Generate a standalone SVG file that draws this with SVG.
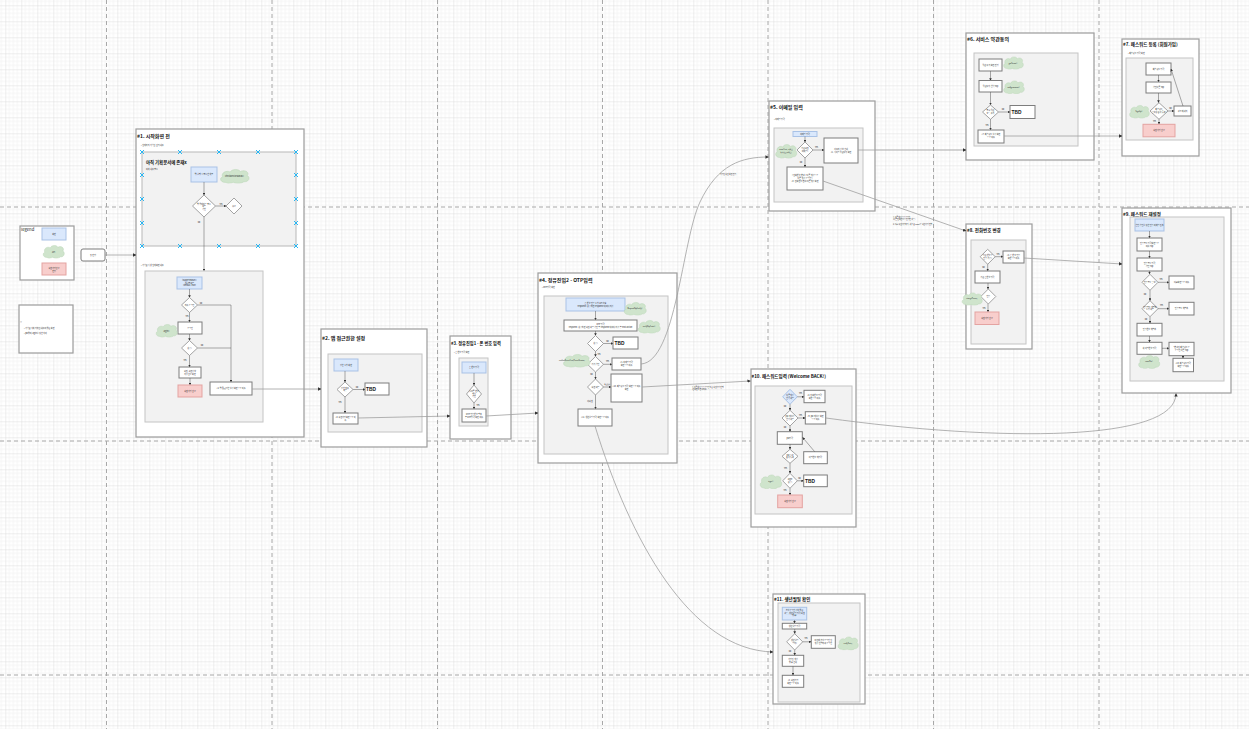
<svg xmlns="http://www.w3.org/2000/svg" xmlns:xlink="http://www.w3.org/1999/xlink" width="1249" height="729" viewBox="0 0 1249 729">
<style>
.frame{fill:#fff;stroke:#9c9c9c;stroke-width:1.2}
.panel{fill:#f2f2f2;stroke:#c4c4c4;stroke-width:1}
.box{fill:#fff;stroke:#7d7d7d;stroke-width:1}
.blue{fill:#dae8fc;stroke:#a9c2e6;stroke-width:1}
.red{fill:#f8cecc;stroke:#e4a3a1;stroke-width:1}
.dia{fill:#fff;stroke:#a3a3a3;stroke-width:1}
.pb{stroke:#a8a8a8;stroke-width:1;stroke-dasharray:4 3;fill:none}
.t{font-family:"Noto Sans CJK KR","Noto Sans",sans-serif;font-size:2px;fill:#222;text-anchor:middle}
.s{text-anchor:start}
.ti{font-family:"Noto Sans CJK KR","Noto Sans",sans-serif;font-size:5px;font-weight:bold;fill:#111}
.tbd{font-family:"Liberation Sans",sans-serif;font-size:4.8px;font-weight:bold;fill:#111;text-anchor:middle}
.e{fill:none;stroke:#555;stroke-width:0.5;marker-end:url(#ai)}
.ln{fill:none;stroke:#555;stroke-width:0.5}
.c{fill:none;stroke:#a0a0a0;stroke-width:0.8;marker-end:url(#ac)}
.xm{stroke:#29b6f2;stroke-width:1;fill:none}
</style>
<defs>
<pattern id="grid" x="5.3" y="5.3" width="16" height="16" patternUnits="userSpaceOnUse">
<path d="M4 0V16M8 0V16M12 0V16M0 4H16M0 8H16M0 12H16" stroke="#eeeeee" stroke-width="0.6" fill="none"/>
<path d="M0 0V16M0 0H16" stroke="#d6d6d6" stroke-width="0.8" fill="none"/>
</pattern>
<marker id="ai" viewBox="0 0 10 10" refX="9" refY="5" markerWidth="2.6" markerHeight="2.6" markerUnits="userSpaceOnUse" orient="auto"><path d="M0 0L10 5L0 10z" fill="#333"/></marker>
<marker id="ac" viewBox="0 0 10 10" refX="9" refY="5" markerWidth="3.4" markerHeight="3.4" markerUnits="userSpaceOnUse" orient="auto"><path d="M0 0L10 5L0 10z" fill="#333"/></marker>
<symbol id="cloud" viewBox="0 0 100 60" preserveAspectRatio="none"><path d="M22 56C4 56 0 38 12 33C5 18 24 6 36 14C42 1 64 1 69 12C82 3 100 15 91 28C102 35 97 55 80 53C73 61 52 61 46 55C37 61 25 60 22 56Z" fill="#cfe4cc" stroke="#bcd8b9" stroke-width="2"/></symbol>
<path id="xmk" d="M-2-2L2 2M-2 2L2-2" class="xm"/>
</defs>
<rect width="1249" height="729" fill="#fff"/>
<rect width="1249" height="729" fill="url(#grid)"/>
<g id="pagebreaks">
<path class="pb" d="M106.5 0V729M272 0V729M437.5 0V729M602.5 0V729M768 0V729M933.5 0V729M1099 0V729M0 207H1249M0 441H1249M0 675H1249"/>
</g>

<g id="legend">
<rect class="frame" x="20" y="226" width="54" height="54"/>
<text class="t s" x="21" y="231" style="font-size:4.2px">legend</text>
<rect class="blue" x="42" y="228" width="24" height="12"/>
<text class="t" x="54" y="235">화면</text>
<use href="#cloud" x="42" y="244.5" width="23" height="14"/>
<text class="t" x="53.5" y="252.5">API</text>
<rect class="red" x="42" y="263" width="24" height="12"/>
<text class="t" x="54" y="268.5">회원가입완료</text>
<text class="t" x="54" y="271.5">진입</text>
</g>
<g id="start">
<rect class="box" x="81" y="249" width="24" height="12" rx="2"/>
<text class="t" x="93" y="256">첫 진입</text>
</g>
<g id="note">
<rect class="frame" x="19" y="305" width="54" height="48"/>
<text class="t s" x="20" y="323">※</text>
<text class="t s" x="24" y="328.5">• 기획문서에 기재된 내용이 없는 화면</text>
<text class="t s" x="24" y="333.5">• pw없이 login을 위한 처리</text>
</g>

<g id="n1">
<rect class="frame" x="136" y="129" width="168" height="308"/>
<text class="ti" x="137" y="137.5">#1. 시작화면 전</text>
<text class="t s" x="141" y="145.5">• 현재까지 기획된 것의 내용</text>
<rect class="panel" x="142" y="152" width="154" height="94" style="stroke:#b8b8b8"/>
<text class="ti" x="146" y="163.5" style="font-size:4.4px">아직 기획문서에 존재x</text>
<text class="t s" x="146" y="170">아래 내용 필요</text>
<rect class="blue" x="191" y="167" width="26" height="15"/>
<text class="t" x="204" y="175">앱 실행 시 필요한 체크</text>
<use href="#cloud" x="219" y="168.5" width="31" height="15"/>
<text class="t" x="234.5" y="176.5">checkDeviceStatus()</text>
<path class="e" d="M204 182V195"/>
<polygon class="dia" points="204,195 215.5,206 204,217 192.5,206"/>
<text class="t" x="204" y="204.5">앱 업데이트 필요</text>
<text class="t" x="204" y="207">여부</text>
<text class="t" x="204" y="209.5">확인</text>
<path class="e" d="M215.5 206H226"/>
<text class="t" x="221" y="204.5">Yes</text>
<polygon class="dia" points="234,198 242,206 234,214 226,206"/>
<text class="t" x="234" y="207">종료</text>
<path class="e" d="M204 217V271"/>
<text class="t" x="199" y="223">No</text>
<use href="#xmk" x="142" y="152"/><use href="#xmk" x="180" y="152"/><use href="#xmk" x="219" y="152"/><use href="#xmk" x="258" y="152"/><use href="#xmk" x="296" y="152"/>
<use href="#xmk" x="142" y="246"/><use href="#xmk" x="180" y="246"/><use href="#xmk" x="219" y="246"/><use href="#xmk" x="258" y="246"/><use href="#xmk" x="296" y="246"/>
<use href="#xmk" x="142" y="175"/><use href="#xmk" x="142" y="199"/><use href="#xmk" x="142" y="223"/>
<use href="#xmk" x="296" y="175"/><use href="#xmk" x="296" y="199"/><use href="#xmk" x="296" y="223"/>
<text class="t s" x="141" y="265.5">• 기획문서 상 현재화면 내용</text>
<rect class="panel" x="145" y="271" width="118" height="151"/>
<rect class="blue" x="177" y="277" width="25" height="12"/>
<text class="t" x="189.5" y="281">isAppFirstRun()</text>
<text class="t" x="189.5" y="283.7">첫실행여부</text>
<text class="t" x="189.5" y="286.4">(default: true)</text>
<path class="e" d="M189.5 289V297.5"/>
<polygon class="dia" points="189.5,297.5 197.5,305 189.5,312.5 181.5,305"/>
<text class="t" x="189.5" y="306">자동 로그인</text>
<path class="ln" d="M197.5 305H231V348"/>
<path class="e" d="M231 348V382"/>
<text class="t" x="201" y="303.5">No</text>
<path class="e" d="M189.5 312.5V322"/>
<text class="t" x="187" y="316.5">Yes</text>
<rect class="box" x="178" y="322" width="24" height="12"/>
<text class="t" x="190" y="328.7">로그인</text>
<use href="#cloud" x="155" y="323.5" width="23" height="14"/>
<text class="t" x="166.5" y="331.5">login()</text>
<path class="e" d="M189.5 334V340.5"/>
<polygon class="dia" points="189.5,340.5 197.5,348 189.5,355.5 181.5,348"/>
<text class="t" x="189.5" y="349">성공?</text>
<path class="ln" d="M197.5 348H231"/>
<text class="t" x="202" y="346">No</text>
<path class="e" d="M189.5 355.5V367"/>
<text class="t" x="185" y="361">Yes</text>
<rect class="box" x="179" y="367" width="22" height="11"/>
<text class="t" x="190" y="371.5">회원, 회원정보</text>
<text class="t" x="190" y="374.5">저장완료 화면</text>
<path class="e" d="M190 378V385"/>
<rect class="red" x="178" y="385" width="24" height="12"/>
<text class="t" x="190" y="391.7">회원가입 완료</text>
<rect class="box" x="210" y="382" width="42" height="13"/>
<text class="t" x="231" y="389.2">#2. 앱 접근권한 설정 화면으로 이동</text>
</g>

<g id="n2">
<rect class="frame" x="321" y="329" width="106" height="118"/>
<text class="ti" x="322" y="339.5">#2. 앱 접근권한 설정</text>
<rect class="panel" x="328" y="354" width="94" height="78"/>
<rect class="blue" x="334" y="359" width="24" height="12"/>
<text class="t" x="346" y="365.7">권한 요청 화면</text>
<path class="e" d="M345 371V382"/>
<polygon class="dia" points="345,382 353,389.5 345,397 337,389.5"/>
<text class="t" x="345" y="388.5">권한 허용</text>
<text class="t" x="345" y="391.2">여부</text>
<path class="e" d="M353 389.5H365"/>
<text class="t" x="357" y="387.5">No</text>
<rect class="box" x="365" y="383" width="24" height="12"/>
<text class="tbd" x="371" y="390.8">TBD</text>
<path class="e" d="M345 397V413"/>
<text class="t" x="340" y="403">Yes</text>
<rect class="box" x="333" y="413" width="25" height="11"/>
<text class="t" x="345.5" y="417.5">#3. 회원가입화면으로 이</text>
<text class="t" x="345.5" y="420.5">동</text>
</g>

<g id="n3">
<rect class="frame" x="450" y="336" width="61" height="103"/>
<text class="ti" x="451" y="344.5" style="font-size:4.2px">#3. 정유진입1 - 폰 번호 입력</text>
<text class="t s" x="454" y="353">• 폰 번호 입력 화면</text>
<rect class="panel" x="459" y="358" width="29" height="68"/>
<rect class="blue" x="462" y="362" width="24" height="11"/>
<text class="t" x="474" y="368.2">폰 번호 입력</text>
<path class="e" d="M474 373V385"/>
<polygon class="dia" points="474,385 481.5,394 474,403 466.5,394"/>
<text class="t" x="474" y="392">올바른 번호</text>
<text class="t" x="474" y="394.6">형식</text>
<text class="t" x="474" y="397.2">확인</text>
<path class="e" d="M474 403V409"/>
<text class="t" x="478" y="405.5">Yes</text>
<rect class="box" x="462" y="409" width="24" height="13"/>
<text class="t" x="474" y="414.5">OTP 인증번호 발송</text>
<text class="t" x="474" y="417.5">후 OTP입력 화면 이동</text>
</g>

<g id="n4">
<rect class="frame" x="538" y="273" width="139" height="190"/>
<text class="ti" x="539" y="281.5">#4. 정유진입2 - OTP입력</text>
<text class="t s" x="542" y="288">• OTP입력 화면</text>
<rect class="panel" x="544" y="296" width="124" height="158"/>
<rect class="blue" x="566" y="298" width="59" height="13"/>
<text class="t" x="595.5" y="303.5">폰 번호 인증 요청 API 호출</text>
<text class="t" x="595.5" y="306.8">response: 성공하면 response 데이터 저장</text>
<use href="#cloud" x="623" y="301.5" width="24" height="14"/>
<text class="t" x="635" y="309.2" style="font-size:1.7px">RequestOtpVerify()</text>
<path class="e" d="M595.5 311V320"/>
<rect class="box" x="564" y="320" width="73" height="11"/>
<text class="t" x="600.5" y="324.5">OTP 입력</text>
<text class="t" x="600.5" y="327.8">response: 성공하면 회원 여부 확인 후 response 데이터 저장 후 next action</text>
<use href="#cloud" x="637" y="319.5" width="24" height="14"/>
<text class="t" x="649" y="327.2" style="font-size:1.7px">verifyOtpCode()</text>
<path class="e" d="M595.5 331V335.5"/>
<polygon class="dia" points="595.5,335.5 603.5,343.5 595.5,351.5 587.5,343.5"/>
<text class="t" x="595.5" y="344.3">성공?</text>
<path class="e" d="M603.5 343.5H613"/>
<text class="t" x="607.5" y="341.5">No</text>
<rect class="box" x="613" y="337" width="25" height="12"/>
<text class="tbd" x="619.5" y="344.7">TBD</text>
<path class="e" d="M595.5 351.5V356.5"/>
<text class="t" x="599" y="354.5">Yes</text>
<polygon class="dia" points="595.5,356.5 603.5,364.3 595.5,372 587.5,364.3"/>
<text class="t" x="595.5" y="365">기기 확인</text>
<use href="#cloud" x="562" y="353.5" width="29" height="14"/>
<text class="t" x="572" y="361.2" style="font-size:1.6px">confirmDeviceExist(PhoneNumber)</text>
<path class="e" d="M603.5 364.3H612"/>
<text class="t" x="607.5" y="362.3">Yes</text>
<rect class="box" x="612" y="358" width="29" height="12"/>
<text class="t" x="626.5" y="363">#5. 이메일 입력</text>
<text class="t" x="626.5" y="366">화면으로 이동</text>
<path class="e" d="M595.5 372V379"/>
<text class="t" x="591.5" y="375">No</text>
<polygon class="dia" points="595.5,379 603.5,387 595.5,395 587.5,387"/>
<text class="t" x="595.5" y="387.7">회원 여부</text>
<path class="e" d="M603.5 387H611"/>
<text class="t" x="607.3" y="385.3" style="font-size:1.6px">회원인증</text>
<rect class="box" x="611" y="374" width="31" height="28"/>
<text class="t" x="626.5" y="387">#10. 패스워드 입력 화면으로 이동</text>
<text class="t" x="626.5" y="390">화면</text>
<path class="e" d="M595.5 395V409"/>
<text class="t" x="590" y="401.5">비회원</text>
<rect class="box" x="578" y="409" width="34" height="17"/>
<text class="t" x="595" y="418.2">#11. 생년월일 입력 화면으로 이동</text>
</g>

<g id="n5">
<rect class="frame" x="769" y="101" width="106" height="110"/>
<text class="ti" x="770" y="109">#5. 이메일 입력</text>
<text class="t s" x="774" y="119.5">• 이메일 입력</text>
<rect class="panel" x="774" y="128" width="89" height="74"/>
<rect class="blue" x="793" y="131.5" width="24" height="5"/>
<text class="t" x="805" y="134.8">이메일 입력</text>
<path class="e" d="M805 136.5V142"/>
<polygon class="dia" points="805,142 813,150 805,158 797,150"/>
<text class="t" x="805" y="149.2">기존회원</text>
<text class="t" x="805" y="151.8">이메일?</text>
<use href="#cloud" x="774.5" y="143.5" width="23" height="15"/>
<text class="t" x="786" y="150" style="font-size:1.6px">emailExist() 이메일</text>
<text class="t" x="786" y="152.5" style="font-size:1.6px">중복체크(이메일)</text>
<path class="e" d="M813 150H824"/>
<text class="t" x="816.5" y="148">Yes</text>
<rect class="box" x="824" y="138" width="34" height="25"/>
<text class="t" x="841" y="149.5">사용자 정보 안내</text>
<text class="t" x="841" y="152.5">#6. 서비스 약관동의 화면</text>
<path class="e" d="M805 158V167"/>
<text class="t" x="801" y="162.5">No</text>
<rect class="box" x="787" y="167" width="36" height="23"/>
<text class="t" x="805" y="175.5">['전화번호 변경'/'다른 계정으로</text>
<text class="t" x="805" y="178.5">다른 계정 로그인']</text>
<text class="t" x="805" y="181.5">#8. 전화번호 변경/다른계정 화면</text>
</g>

<g id="n6">
<rect class="frame" x="966" y="33" width="128" height="127"/>
<text class="ti" x="967" y="40.5">#6. 서비스 약관동의</text>
<rect class="panel" x="974" y="53" width="104" height="93"/>
<rect class="box" x="979" y="59" width="23" height="12"/>
<text class="t" x="990.5" y="65.7">약관 동의 화면 진입</text>
<use href="#cloud" x="1002.5" y="56" width="21.5" height="13.5"/>
<text class="t" x="1013" y="63.5" style="font-size:1.7px">getTerms()</text>
<path class="e" d="M990.5 71V80.5"/>
<rect class="box" x="979" y="80.5" width="23" height="11.5"/>
<text class="t" x="990.5" y="87">약관동의 선택 Tap</text>
<use href="#cloud" x="1002.5" y="80" width="22.5" height="14"/>
<text class="t" x="1013.5" y="87.7" style="font-size:1.7px">setAgreement()</text>
<path class="e" d="M990.5 92V105"/>
<polygon class="dia" points="990.5,105 998.5,112 990.5,119.3 982.5,112"/>
<text class="t" x="990.5" y="111">필수 약관</text>
<text class="t" x="990.5" y="113.6">모두 동의</text>
<path class="e" d="M998.5 112H1010"/>
<text class="t" x="1003" y="109.5">No</text>
<rect class="box" x="1010" y="105.5" width="25" height="13"/>
<text class="tbd" x="1016.5" y="113.7">TBD</text>
<path class="e" d="M990.5 119.3V130"/>
<text class="t" x="987" y="125.5">Yes</text>
<rect class="box" x="978" y="130" width="26" height="13"/>
<text class="t" x="991" y="135.3">#7. 패스워드 설정 화면</text>
<text class="t" x="991" y="138.3">으로 이동</text>
</g>

<g id="n7">
<rect class="frame" x="1122" y="39" width="77" height="117"/>
<text class="ti" x="1123" y="46" style="font-size:4.5px">#7. 패스워드 등록 (회원가입)</text>
<text class="t s" x="1128" y="53.5">• 패스워드 입력 화면</text>
<rect class="panel" x="1126" y="58" width="67" height="82"/>
<rect class="box" x="1146" y="63" width="25" height="12"/>
<text class="t" x="1158.5" y="69.7">패스워드 입력</text>
<path class="e" d="M1158.5 75V82"/>
<rect class="box" x="1146" y="82" width="25" height="11"/>
<text class="t" x="1158.5" y="88.2">확인버튼 Tap</text>
<path class="e" d="M1158.5 93V102.7"/>
<polygon class="dia" points="1159,102.7 1168,111 1159,119.3 1150,111"/>
<text class="t" x="1159" y="110.2">패스워드</text>
<text class="t" x="1159" y="112.8">유효성 검사 통과?</text>
<use href="#cloud" x="1128.5" y="104.5" width="21.5" height="14"/>
<text class="t" x="1139" y="112.2" style="font-size:1.7px">SignUp()</text>
<path class="e" d="M1168 111H1174"/>
<text class="t" x="1170.5" y="108.5">No</text>
<rect class="box" x="1174" y="106" width="17" height="10"/>
<text class="t" x="1182.5" y="111.7">경고 메세지</text>
<path class="e" d="M1183 106L1171 69"/>
<path class="e" d="M1159 119.3V124.3"/>
<text class="t" x="1154.5" y="122">Yes</text>
<rect class="red" x="1143" y="124.3" width="32" height="12.5"/>
<text class="t" x="1159" y="131.2">회원가입 완료</text>
</g>

<g id="n8">
<rect class="frame" x="966" y="224" width="66" height="125"/>
<text class="ti" x="967" y="231.5" style="font-size:4.5px">#8. 전화번호 변경</text>
<rect class="panel" x="971" y="240" width="55" height="104"/>
<polygon class="dia" points="987.7,249.3 995.2,256.7 987.7,264.3 980.2,256.7"/>
<text class="t" x="987.7" y="256">기존 번호로</text>
<text class="t" x="987.7" y="258.6">인증 가능?</text>
<path class="e" d="M995.2 256.7H1003"/>
<text class="t" x="998" y="254.5">Yes</text>
<rect class="box" x="1003" y="251" width="21" height="12"/>
<text class="t" x="1013.5" y="256">#4. 폰 번호 인증</text>
<text class="t" x="1013.5" y="259">화면으로 이동</text>
<path class="e" d="M987.7 264.3V271"/>
<text class="t" x="983.5" y="267.5">No</text>
<rect class="box" x="975" y="271" width="25" height="12"/>
<text class="t" x="987.5" y="277.7">기존 폰번호 입력</text>
<path class="e" d="M988 283V289"/>
<polygon class="dia" points="988.3,289 995.8,296.5 988.3,304 980.8,296.5"/>
<text class="t" x="988.3" y="297.2">인증</text>
<use href="#cloud" x="961" y="292" width="22" height="13.5"/>
<text class="t" x="972" y="299.3" style="font-size:1.6px">changePhone()</text>
<path class="e" d="M988 304V312"/>
<text class="t" x="984" y="309">Yes</text>
<rect class="red" x="975" y="312" width="24" height="12.5"/>
<text class="t" x="987" y="319">회원가입 완료</text>
</g>

<g id="n9">
<rect class="frame" x="1122" y="208" width="109" height="185"/>
<text class="ti" x="1123" y="215.5" style="font-size:4.5px">#9. 패스워드 재설정</text>
<rect class="panel" x="1130" y="217" width="94" height="164"/>
<rect class="blue" x="1135" y="219" width="29" height="12"/>
<text class="t" x="1149.5" y="225.7">본인 확인을 위한 인증 이메일 전송</text>
<path class="e" d="M1149.5 231V238"/>
<rect class="box" x="1137" y="238" width="25" height="13"/>
<text class="t" x="1149.5" y="243.5">인증코드 입력화면으로</text>
<text class="t" x="1149.5" y="246.5">이동 Tap</text>
<path class="e" d="M1149.5 251V258"/>
<rect class="box" x="1137" y="258" width="25" height="13"/>
<text class="t" x="1149.5" y="263.5">인증코드 입력</text>
<text class="t" x="1149.5" y="266.5">확인 Tap</text>
<path class="e" d="M1149.5 271V274"/>
<polygon class="dia" points="1150,274.3 1158,282.3 1150,290.3 1142,282.3"/>
<text class="t" x="1150" y="283">인증코드 유효?</text>
<path class="e" d="M1158 282.3H1169"/>
<text class="t" x="1161" y="280">Yes</text>
<rect class="box" x="1169" y="276" width="25" height="13"/>
<text class="t" x="1181.5" y="283.2">다음화면으로 이동</text>
<path class="e" d="M1150 290.3V300.7"/>
<text class="t" x="1145" y="294.5">No</text>
<polygon class="dia" points="1150,300.7 1158,308.7 1150,316.7 1142,308.7"/>
<text class="t" x="1150" y="307.8">인증코드 재발송</text>
<text class="t" x="1150" y="310.4">요청 여부</text>
<path class="e" d="M1158 308.7H1169"/>
<text class="t" x="1161.5" y="306">Yes</text>
<rect class="box" x="1169" y="302.3" width="25" height="12.7"/>
<text class="t" x="1181.5" y="309.3">인증코드 재발송</text>
<path class="e" d="M1150 316.7V323.3"/>
<text class="t" x="1146" y="320">No</text>
<rect class="box" x="1137" y="323.3" width="25" height="12.7"/>
<text class="t" x="1149.5" y="330.3">인증번호 재발송</text>
<path class="e" d="M1149.5 336V342.3"/>
<rect class="box" x="1137" y="342.3" width="25" height="12"/>
<text class="t" x="1149.5" y="349">새 비밀번호 입력</text>
<use href="#cloud" x="1137.5" y="354.5" width="23" height="14.3"/>
<text class="t" x="1149" y="362.3" style="font-size:1.7px">resetPw()</text>
<path class="e" d="M1162 348.3H1169"/>
<rect class="box" x="1169" y="342.3" width="25" height="13.4"/>
<text class="t" x="1181.5" y="347.8">*변경된 패스워드로</text>
<text class="t" x="1181.5" y="350.8">로그인 버튼 Tap</text>
<path class="e" d="M1183 355.7V358.3"/>
<rect class="box" x="1173" y="358.3" width="20.5" height="13.4"/>
<text class="t" x="1183.2" y="363.8">#10. 패스워드입력</text>
<text class="t" x="1183.2" y="366.8">화면으로 이동</text>
</g>

<g id="n10">
<rect class="frame" x="751" y="369" width="105" height="158"/>
<text class="ti" x="751.5" y="377.5" style="font-size:4.5px">#10. 패스워드입력 (Welcome BACK!)</text>
<rect class="panel" x="755" y="386" width="97" height="128"/>
<polygon points="790,389.3 797.3,396.8 790,404.3 782.7,396.8" fill="#dae8fc" stroke="#a9c2e6" stroke-width="1"/>
<text class="t" x="790" y="396">다른계정</text>
<text class="t" x="790" y="398.6">선택 여부</text>
<path class="e" d="M797.3 396.8H804"/>
<text class="t" x="800.5" y="394.3">Yes</text>
<rect class="box" x="804" y="390.3" width="21" height="12.4"/>
<text class="t" x="814.5" y="395.5">#4. 전화번호 입력</text>
<text class="t" x="814.5" y="398.5">화면으로 이동</text>
<path class="e" d="M790 404.3V410.3"/>
<text class="t" x="785" y="407">No</text>
<polygon class="dia" points="790,410.3 798,418 790,426 782,418"/>
<text class="t" x="790" y="417.2">pw 재설정</text>
<text class="t" x="790" y="419.8">선택 여부</text>
<path class="e" d="M798 418H805.3"/>
<text class="t" x="800.5" y="415.5">Yes</text>
<rect class="box" x="805.3" y="411.7" width="20.4" height="12.3"/>
<text class="t" x="815.5" y="417">#9. pw 재설정 화면</text>
<text class="t" x="815.5" y="420">으로 이동</text>
<path class="e" d="M790 426V431.7"/>
<text class="t" x="785" y="428">No</text>
<rect class="box" x="777.3" y="431.7" width="25" height="12.6"/>
<text class="t" x="789.8" y="438.8">pw입력</text>
<path class="e" d="M790 444.3V449.3"/>
<polygon class="dia" points="790,449.3 798,456.3 790,463.3 782,456.3"/>
<text class="t" x="790" y="455.6">pw 유효</text>
<text class="t" x="790" y="458.2">검사 통과</text>
<rect class="box" x="803.7" y="451.7" width="23.6" height="12"/>
<text class="t" x="815.5" y="458.4">비밀번호 재입력</text>
<path class="e" d="M814.7 451.7L802.7 437.5"/>
<path class="e" d="M790 463.3V473.3"/>
<text class="t" x="785.5" y="469">Yes</text>
<polygon class="dia" points="790,473.3 797.3,480.8 790,488.3 782.7,480.8"/>
<text class="t" x="790" y="480.2">login</text>
<text class="t" x="790" y="482.8">성공?</text>
<use href="#cloud" x="759" y="474" width="23.5" height="15"/>
<text class="t" x="770.7" y="482.2" style="font-size:1.7px">login()</text>
<path class="e" d="M797.3 480.8H803.7"/>
<text class="t" x="799.5" y="479">No</text>
<rect class="box" x="803.7" y="475" width="23.6" height="11.7"/>
<text class="tbd" x="810" y="482.6">TBD</text>
<path class="e" d="M790 488.3V495"/>
<text class="t" x="785" y="491">Yes</text>
<rect class="red" x="777.7" y="495" width="24.6" height="12.7"/>
<text class="t" x="790" y="502">회원가입 완료</text>
</g>

<g id="n11">
<rect class="frame" x="773" y="594" width="92" height="110"/>
<text class="ti" x="774" y="600.5" style="font-size:4.5px">#11. 생년월일 확인</text>
<rect class="panel" x="778" y="603" width="82" height="99"/>
<rect class="blue" x="782.3" y="607.3" width="24.4" height="12.7"/>
<text class="t" x="794.5" y="611">소셜로그인 정보 없는</text>
<text class="t" x="794.5" y="613.6">경우, 생년월일 입력(회원</text>
<text class="t" x="794.5" y="616.2">없음)</text>
<path class="e" d="M794.5 620V623.3"/>
<rect class="box" x="782.3" y="623.3" width="24.4" height="5.7"/>
<text class="t" x="794.5" y="626.9">생년월일 입력</text>
<path class="e" d="M794.7 629V633.7"/>
<polygon class="dia" points="794.7,633.7 802.7,641.8 794.7,650 786.7,641.8"/>
<text class="t" x="794.7" y="641">생년월일</text>
<text class="t" x="794.7" y="643.6">일치?</text>
<path class="e" d="M802.7 641.8H811.3"/>
<text class="t" x="806" y="638.5">Yes</text>
<rect class="box" x="811.3" y="635.7" width="24" height="12.6"/>
<text class="t" x="823.3" y="641">이전에 소셜로그인 된</text>
<text class="t" x="823.3" y="644">계정 연결하여 로그인</text>
<use href="#cloud" x="837" y="636" width="22" height="14.3"/>
<text class="t" x="848" y="643.8" style="font-size:1.6px">verifyBirth()</text>
<path class="e" d="M794.7 650V655.3"/>
<text class="t" x="790" y="652">No</text>
<rect class="box" x="782.3" y="655.3" width="21.4" height="11"/>
<text class="t" x="793" y="660">가입된 계정</text>
<text class="t" x="793" y="663">없음 안내</text>
<path class="e" d="M793 666.3V675.3"/>
<rect class="box" x="782.3" y="675.3" width="21.4" height="12"/>
<text class="t" x="793" y="680.5">#3. 회원가입</text>
<text class="t" x="793" y="683.5">화면으로 이동</text>
</g>

<g id="connectors">
<path class="c" d="M105 255H136"/>
<path class="c" d="M252 389H321"/>
<path class="c" d="M358 418L450 416"/>
<path class="c" d="M486 416L538 413"/>
<path class="c" d="M641 364C676 362 682 240 700 202S742 157 768.5 157"/>
<path class="c" d="M642 387L750.5 381"/>
<path class="c" d="M595 426C630 540 690 650 773 652"/>
<path class="c" d="M858 150H966"/>
<path class="c" d="M823 181L966 231"/>
<path class="c" d="M1004 136H1122"/>
<path class="c" d="M1024 258L1122 264"/>
<path class="c" d="M826 418C1000 442 1176 442 1176 393.5"/>
<text class="t s" x="720" y="174.5" style="font-size:1.8px">가입된 회원 화면 진입</text>
<text class="t s" x="893" y="218" style="font-size:1.8px">1. 다른계정으로 로그인</text>
<text class="t s" x="893" y="220.3" style="font-size:1.8px">(다른 전화번호로 진입한 경우)</text>
<text class="t s" x="893" y="225" style="font-size:1.8px">2. 다시 회원가입하기 : 새로운 email로 회원가입 진행</text>
<text class="t s" x="692" y="388" style="font-size:1.8px">1. 다른계정으로 로그인 또는 회원가입 진행</text>
<text class="t s" x="692" y="390.3" style="font-size:1.8px">(전화번호 변경하여)</text>
</g>
</svg>
